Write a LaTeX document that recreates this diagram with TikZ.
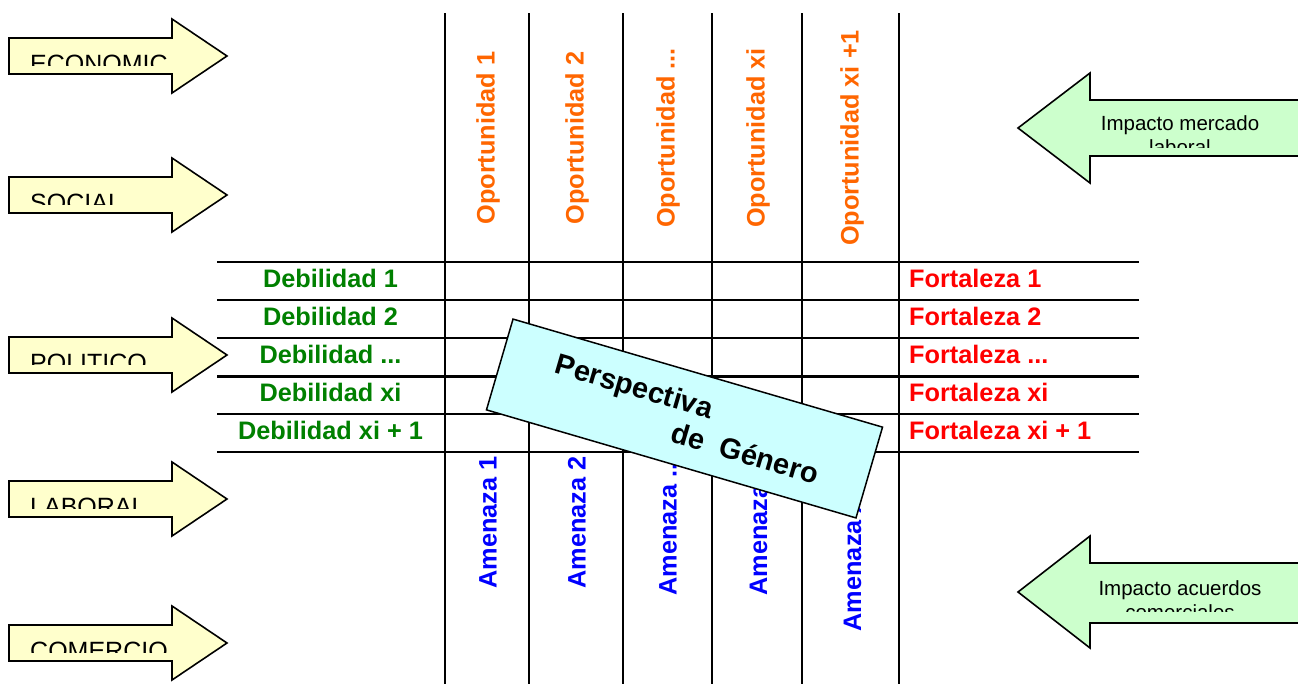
\documentclass[tikz,border=0pt]{standalone}
\usepackage{fontspec}
\setmainfont{Liberation Sans}
\definecolor{yellowfill}{HTML}{FFFFCC}
\definecolor{greenfill}{HTML}{CCFFCC}
\definecolor{cyanfill}{HTML}{CCFFFF}
\definecolor{orangetxt}{HTML}{FF6600}
\definecolor{bluetxt}{HTML}{0000FF}
\definecolor{greentxt}{HTML}{008000}
\definecolor{redtxt}{HTML}{FF0000}
\begin{document}
\begin{tikzpicture}[x=1pt,y=-1pt,
  gridline/.style={line width=2.2pt, black},
  larrow/.style={draw=black, line width=1.6pt, fill=yellowfill},
  rarrow/.style={draw=black, line width=1.6pt, fill=greenfill},
  lbl/.style={font=\fontsize{25.3}{30}\selectfont\bfseries, inner sep=0pt},
  opp/.style={lbl, text=orangetxt, rotate=90},
  ame/.style={lbl, text=bluetxt, rotate=90, anchor=east},
  deb/.style={lbl, text=greentxt, anchor=base},
  fort/.style={lbl, text=redtxt, anchor=base west},
  arrtxt/.style={font=\fontsize{25}{30}\selectfont, inner sep=0pt},
  rtxt/.style={font=\fontsize{20.5}{24}\selectfont, inner sep=0pt, anchor=base},
  boxtxt/.style={font=\fontsize{29}{34}\selectfont\bfseries, inner sep=0pt},
  perspbox/.style={draw=black, line width=1.5pt, fill=cyanfill, minimum width=385pt, minimum height=94.6pt, inner sep=0pt}
]
\fill[white] (0,0) rectangle (1298,683);
\useasboundingbox (0,0) rectangle (1298,683);

% grid
\foreach \y in {262,300,338.3,376.5,414.3,452.3}
  \draw[gridline] (217,\y) -- (1139,\y);
\foreach \x in {444.7,529,623,712,802.3,898.7}
  \draw[gridline] (\x,13.3) -- (\x,690);

% opportunities
\node[opp] (o1) at (488,138) {Oportunidad 1};
\node[opp] (o2) at (577,138) {Oportunidad 2};
\node[opp] (o3) at (668,138) {Oportunidad ...};
\node[opp] (o4) at (758,138) {Oportunidad xi};
\node[opp] (o5) at (852,138) {Oportunidad xi +1};

% threats
\node[ame] (a1) at (488,456) {Amenaza 1};
\node[ame] (a2) at (577,456) {Amenaza 2};
\node[ame] (a3) at (668,456) {Amenaza ...};
\node[ame] (a4) at (758,456) {Amenaza xi};
\node[ame] (a5) at (852,456) {Amenaza xi +1};

% weaknesses
\node[deb] (d1) at (330.5,287) {Debilidad 1};
\node[deb] (d2) at (330.5,325) {Debilidad 2};
\node[deb] (d3) at (330.5,363.3) {Debilidad ...};
\node[deb] (d4) at (330.5,401.5) {Debilidad xi};
\node[deb] (d5) at (330.5,439.3) {Debilidad xi + 1};

% strengths
\node[fort] (f1) at (909,287) {Fortaleza 1};
\node[fort] (f2) at (909,325) {Fortaleza 2};
\node[fort] (f3) at (909,363.3) {Fortaleza ...};
\node[fort] (f4) at (909,401.5) {Fortaleza xi};
\node[fort] (f5) at (909,439.3) {Fortaleza xi + 1};

% left arrows
\foreach \c/\t/\n in {56/ECONOMIC/eco, 195/SOCIAL/soc, 355/POLITICO/pol, 499/LABORAL/lab, 643/COMERCIO/com} {
  \draw[larrow] (9,\c-18) -- (172,\c-18) -- (172,\c-37) -- (227,\c) -- (172,\c+37) -- (172,\c+18) -- (9,\c+18) -- cycle;
  \begin{scope}
    \clip (9,\c-18) rectangle (172,\c+9.5);
    \node[arrtxt, anchor=base west] (\n) at (30,\c+16.4) {\t};
  \end{scope}
}

% right arrows
\draw[rarrow] (1310,100) -- (1090,100) -- (1090,73) -- (1018,128) -- (1090,183) -- (1090,156) -- (1310,156) -- cycle;
\begin{scope}
  \clip (1090,100) rectangle (1298,147);
  \node[rtxt] (m1) at (1180,130) {Impacto mercado};
  \node[rtxt] (m2) at (1180,154) {laboral};
\end{scope}
\draw[rarrow] (1310,563) -- (1090,563) -- (1090,536) -- (1018,592) -- (1090,648) -- (1090,623) -- (1310,623) -- cycle;
\begin{scope}
  \clip (1090,563) rectangle (1298,611);
  \node[rtxt] (c1) at (1180,595) {Impacto acuerdos};
  \node[rtxt] (c2) at (1180,619) {comerciales};
\end{scope}

% rotated box
\begin{scope}[shift={(684.5,418.5)}, rotate=-16.3, transform shape]
  \node[perspbox] (persp) at (0,0) {};
  \node[boxtxt, anchor=base] (p1) at (-57,-7) {Perspectiva};
  \node[boxtxt, anchor=base] (p2) at (68,26.5) {de\ \ Género};
\end{scope}
\end{tikzpicture}
\end{document}
